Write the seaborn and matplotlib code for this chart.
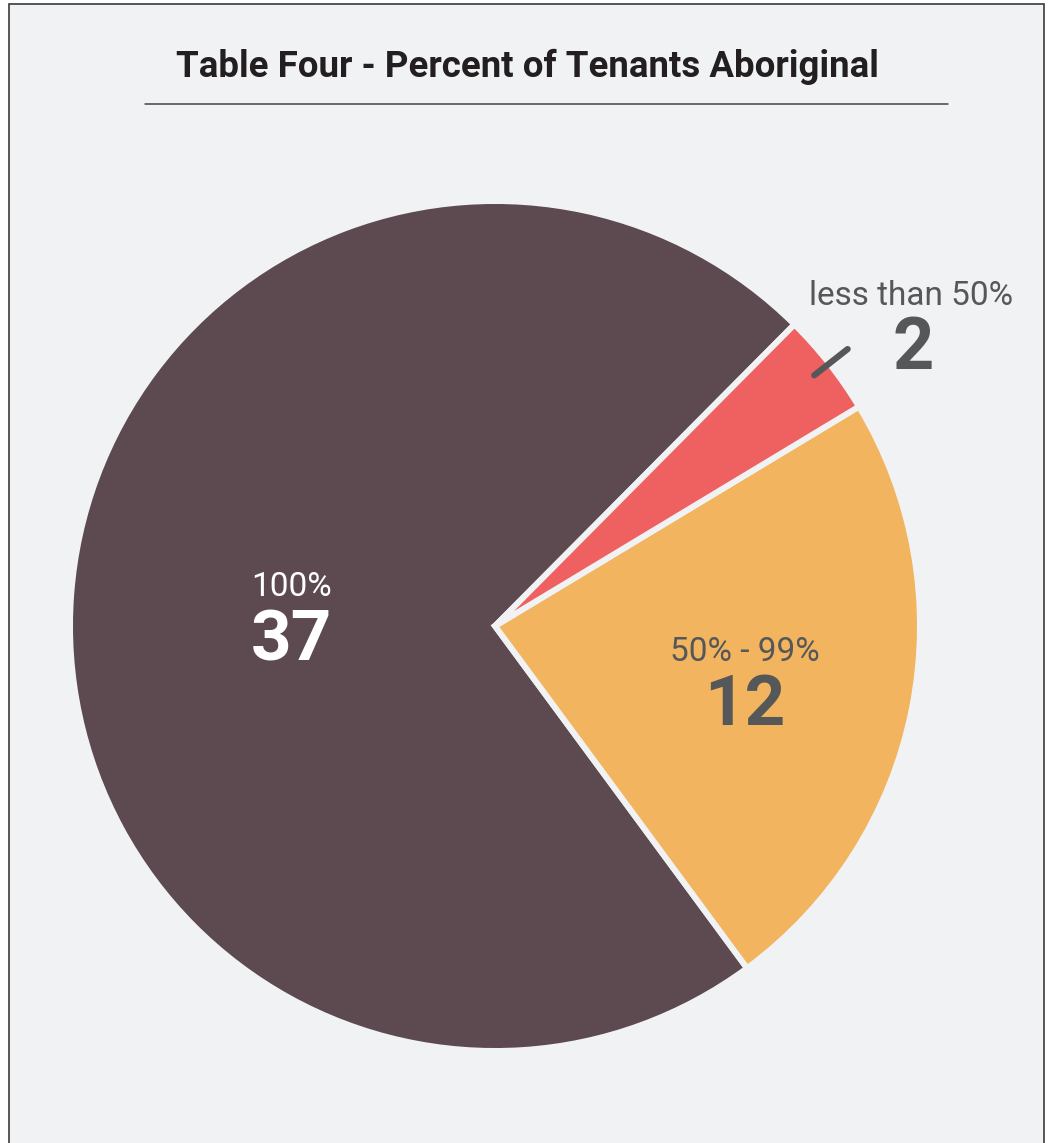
import numpy as np
import matplotlib
matplotlib.use('Agg')
import matplotlib.pyplot as plt
import seaborn as sns
from matplotlib.patches import Rectangle
from matplotlib.lines import Line2D

#%% Data
categories = ['100%', '50% - 99%', 'less than 50%']
counts = [37, 12, 2]
colors = ['#5c4a50', '#f2b45e', '#ef6060']

title = 'Table Four - Percent of Tenants Aboriginal'

#%% Style
sns.set_theme(style='white')
plt.rcParams['font.family'] = ['Roboto', 'DejaVu Sans']
bg = '#f1f2f4'
txt_gray = '#555759'

fig = plt.figure(figsize=(10.5, 11.43), dpi=100)
fig.patch.set_facecolor('white')
W, H = 1050, 1143

# panel with border
fig.patches.append(Rectangle((9 / W, -0.01), (1044 - 9) / W, (H - 4) / H + 0.01,
                             transform=fig.transFigure, facecolor=bg,
                             edgecolor='#3a3a3a', linewidth=1.2, zorder=-5))

# title + rule
fig.text(527 / W, 1 - 67 / H, title, ha='center', va='center',
         fontsize=26.4, fontweight='bold', color='#231f20')
fig.lines.append(Line2D([145 / W, 948 / W], [1 - 104 / H, 1 - 104 / H],
                        transform=fig.transFigure, color='#444444', linewidth=1.1))

# pie axes: centre (495, 626) px, radius 425 px
cx, cy, R, half = 495, 626, 425, 450
ax = fig.add_axes([(cx - half) / W, (H - cy - half) / H, 2 * half / W, 2 * half / H])
ax.set_zorder(1)
ax.set_facecolor('none')

wedges, _ = ax.pie(counts, colors=sns.color_palette(colors), startangle=45.2,
                   counterclock=True, radius=1,
                   wedgeprops={'edgecolor': bg, 'linewidth': 4.3})

lim = half / R
ax.set_xlim(-lim, lim)
ax.set_ylim(-lim, lim)
ax.set_aspect('equal')
ax.axis('off')

# labels
label_r = [0.48, 0.60, None]
text_col = ['white', txt_gray, txt_gray]
for w, cat, n, r, tc in zip(wedges, categories, counts, label_r, text_col):
    mid = np.deg2rad((w.theta1 + w.theta2) / 2)
    if r is not None:
        x, y = r * np.cos(mid), r * np.sin(mid)
        ax.text(x, y + 0.035, cat, ha='center', va='baseline', fontsize=24, color=tc)
        ax.text(x, y - 0.116, str(n), ha='center', va='baseline', fontsize=51,
                fontweight='bold', color=tc)
    else:
        # small slice: leader line and outside label
        ax.plot([0.955 * np.cos(mid), 1.055 * np.cos(mid)],
                [0.955 * np.sin(mid), 1.055 * np.sin(mid)],
                color=txt_gray, linewidth=4.5, solid_capstyle='round')
        ax.text(0.978, 0.755, cat, ha='center', va='baseline', fontsize=24, color=tc)
        ax.text(0.983, 0.605, str(n), ha='center', va='baseline', fontsize=52,
                fontweight='bold', color=tc)

fig.savefig('out.png', dpi=100, facecolor=fig.get_facecolor())
